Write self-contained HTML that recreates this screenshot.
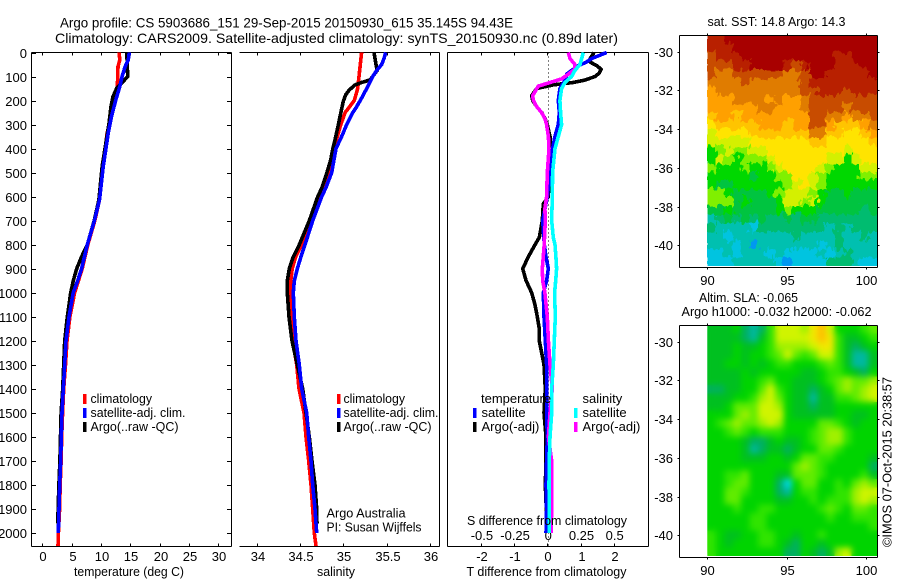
<!DOCTYPE html>
<html lang="en">
<head>
<meta charset="utf-8">
<title>Argo profile 5903686_151</title>
<style>
html,body{margin:0;padding:0;background:#fff;width:900px;height:580px;overflow:hidden}
svg{display:block}
text{font-family:"Liberation Sans",sans-serif;fill:#000;font-size:13px}
.t{font-size:14px}
</style>
</head>
<body>
<svg id="fig" width="900" height="580" viewBox="0 0 900 580" xmlns="http://www.w3.org/2000/svg">
<defs>
<clipPath id="clipSst"><rect x="707" y="35" width="170.5" height="231"/></clipPath>
<clipPath id="clipSla"><rect x="707" y="325" width="170.5" height="231"/></clipPath>
<filter id="blurSst" x="0" y="0" width="100%" height="100%" color-interpolation-filters="sRGB">
<feTurbulence type="fractalNoise" baseFrequency="0.22 0.12" numOctaves="2" seed="4" result="noise"/>
<feDisplacementMap in="SourceGraphic" in2="noise" scale="12" xChannelSelector="R" yChannelSelector="G"/>
</filter>
<filter id="blurSla" x="-5%" y="-5%" width="110%" height="110%" color-interpolation-filters="sRGB"><feGaussianBlur stdDeviation="3.2"/></filter>
</defs>
<rect width="900" height="580" fill="#fff"/>
<text class="t" x="60" y="27.5" textLength="453" lengthAdjust="spacingAndGlyphs">Argo profile: CS 5903686_151 29-Sep-2015 20150930_615 35.145S 94.43E</text>
<text class="t" x="55" y="43" textLength="563" lengthAdjust="spacingAndGlyphs">Climatology: CARS2009. Satellite-adjusted climatology: synTS_20150930.nc (0.89d later)</text>

<g id="panels"></g>

<text x="74" y="576" textLength="110" lengthAdjust="spacingAndGlyphs">temperature (deg C)</text>
<text x="317" y="576" textLength="38" lengthAdjust="spacingAndGlyphs">salinity</text>
<text x="466.5" y="576" textLength="160" lengthAdjust="spacingAndGlyphs">T difference from climatology</text>
<text x="467" y="525" textLength="160" lengthAdjust="spacingAndGlyphs">S difference from climatology</text>

<g>
<rect x="83" y="394" width="3.5" height="10" fill="#f00"/>
<rect x="83" y="408" width="3.5" height="10" fill="#00f"/>
<rect x="83" y="422" width="3.5" height="10" fill="#000"/>
<text x="90.5" y="403" textLength="61.5" lengthAdjust="spacingAndGlyphs">climatology</text>
<text x="90.5" y="417" textLength="95" lengthAdjust="spacingAndGlyphs">satellite-adj. clim.</text>
<text x="90.5" y="431" textLength="88" lengthAdjust="spacingAndGlyphs">Argo(..raw -QC)</text>
</g>
<g>
<rect x="337" y="394" width="3.5" height="10" fill="#f00"/>
<rect x="337" y="408" width="3.5" height="10" fill="#00f"/>
<rect x="337" y="422" width="3.5" height="10" fill="#000"/>
<text x="343.5" y="403" textLength="61.5" lengthAdjust="spacingAndGlyphs">climatology</text>
<text x="343.5" y="417" textLength="95" lengthAdjust="spacingAndGlyphs">satellite-adj. clim.</text>
<text x="343.5" y="431" textLength="88" lengthAdjust="spacingAndGlyphs">Argo(..raw -QC)</text>
</g>
<text x="326.5" y="517.5" textLength="79" lengthAdjust="spacingAndGlyphs">Argo Australia</text>
<text x="326.5" y="531.5" textLength="95" lengthAdjust="spacingAndGlyphs">PI: Susan Wijffels</text>

<text x="707.5" y="26" textLength="138" lengthAdjust="spacingAndGlyphs">sat. SST: 14.8 Argo: 14.3</text>
<text x="699" y="302" textLength="99" lengthAdjust="spacingAndGlyphs">Altim. SLA: -0.065</text>
<text x="681.5" y="316" textLength="190" lengthAdjust="spacingAndGlyphs">Argo h1000: -0.032 h2000: -0.062</text>

<g id="maps"></g>

<text transform="translate(891.5 547) rotate(-90)" textLength="170" lengthAdjust="spacingAndGlyphs">©IMOS 07-Oct-2015 20:38:57</text>
</svg>

<script>
/* ---------- profile data ---------- */
const depthTicks = [0,100,200,300,400,500,600,700,800,900,1000,1100,1200,1300,1400,1500,1600,1700,1800,1900,2000];
const tempTicks = [0,5,10,15,20,25,30];
const salTicks = [34,34.5,35,35.5,36];
const salTickLabels = ['34','34.5','35','35.5','36'];
const tDiffTicks = [-2,-1,0,1,2];
const sDiffTicks = [-0.5,-0.25,0,0.25,0.5];
const sDiffTickLabels = ['-0.5','-0.25','0','0.25','0.5'];

const tempClimDepth = [0,30,59,100,140,195,334,473,613,700,800,900,1000,1100,1200,1300,1400,1500,1600,1700,1800,1900,2000,2054];
const tempClim = [13.07,13.2,12.9,12.85,12.8,12.4,11.05,10.3,9.75,8.95,7.75,6.8,5.5,4.7,4.2,3.95,3.65,3.45,3.3,3.2,3.05,2.95,2.75,2.68];
const tempSatDepth = [0,30,59,100,142,195,264,334,473,613,700,800,900,950,1000,1100,1200,1300,1400,1500,1600,1700,1800,1900,2000];
const tempSat = [14.82,14.65,14.1,13.6,13.2,12.55,11.8,11.25,10.4,9.75,8.87,7.67,6.7,6.03,5.27,4.55,4.04,3.82,3.58,3.36,3.24,3.13,2.96,2.85,2.73];
const tempArgoDepth = [0,100,120,148,183,225,295,334,473,613,700,800,850,900,950,1000,1100,1200,1300,1400,1500,1600,1700,1800,1900,1960];
const tempArgo = [14.4,14.55,13.8,12.7,12.05,11.7,11.36,11.1,10.2,9.65,8.85,7.67,6.7,5.86,5.28,4.83,4.26,3.81,3.64,3.47,3.2,3.1,3.0,2.83,2.7,2.65];

const salClimDepth = [0,100,150,200,250,300,350,400,500,600,700,800,850,900,950,1000,1100,1200,1300,1400,1500,1600,1700,1800,1900,2000,2054];
const salClim = [35.21,35.18,35.165,35.126,35.02,34.97,34.93,34.89,34.83,34.719,34.623,34.519,34.45,34.41,34.392,34.384,34.392,34.415,34.462,34.488,34.546,34.569,34.6,34.627,34.646,34.665,34.684];
const salSatDepth = [0,25,50,75,100,150,190,225,250,300,350,400,500,565,600,700,800,850,900,950,1000,1100,1200,1300,1400,1500,1600,1700,1800,1900,2000];
const salSat = [35.488,35.469,35.442,35.385,35.338,35.269,35.21,35.154,35.108,35.038,34.98,34.915,34.865,34.796,34.75,34.646,34.557,34.511,34.468,34.434,34.422,34.434,34.453,34.491,34.519,34.577,34.6,34.627,34.646,34.673,34.692];
const salArgoDepth = [0,25,50,75,114,125,135,156,176,203,253,303,364,403,447,503,565,600,700,800,850,900,950,1000,1100,1200,1300,1400,1500,1600,1700,1800,1900,1960];
const salArgo = [35.353,35.365,35.376,35.39,35.307,35.21,35.134,35.068,35.027,34.999,34.969,34.94,34.903,34.877,34.854,34.808,34.75,34.704,34.607,34.491,34.422,34.376,34.353,34.353,34.373,34.407,34.468,34.531,34.569,34.607,34.638,34.673,34.692,34.696];

const tDiffArgoDepth = [0,25,40,55,70,85,100,115,125,135,150,180,200,225,250,275,300,350,400,500,600,630,700,770,800,850,900,950,1000,1050,1100,1150,1200,1250,1300,1400,1500,1600,1700,1800,1900,1960];
const tDiffArgo = [1.41,1.29,1.29,1.49,1.62,1.57,1.44,1.13,0.78,0.18,-0.32,-0.47,-0.44,-0.32,-0.17,-0.07,0,0.08,0.08,0.06,0.03,-0.12,-0.15,-0.24,-0.37,-0.57,-0.74,-0.64,-0.47,-0.37,-0.3,-0.24,-0.24,-0.17,-0.1,-0.06,-0.1,-0.04,-0.04,-0.06,-0.03,-0.03];
const tDiffSatDepth = [0,25,40,55,70,90,110,150,200,250,300,350,400,500,600,650,700,800,850,900,950,1000,1100,1200,1300,1400,1500,1600,1700,1800,1900,2000];
const tDiffSat = [1.79,1.34,1.18,0.93,0.78,0.58,0.56,0.38,0.33,0.36,0.33,0.23,0.16,0.08,0,-0.07,-0.14,-0.09,-0.04,0.03,-0.02,-0.12,-0.1,-0.06,-0.02,-0.02,-0.02,0,-0.02,-0.04,-0.02,-0.04];
const sDiffSatDepth = [0,25,50,75,100,125,150,200,250,300,350,400,500,600,700,770,800,850,900,950,1000,1100,1200,1300,1400,1500,1600,1700,1800,1900,2000];
const sDiffSat = [0.271,0.259,0.246,0.208,0.183,0.133,0.108,0.095,0.1,0.108,0.083,0.058,0.04,0.038,0.033,0.045,0.058,0.065,0.07,0.063,0.055,0.06,0.053,0.045,0.033,0.033,0.02,0.015,0.013,0.015,0.015];
const sDiffArgoDepth = [0,25,50,70,90,110,125,140,180,200,225,250,275,300,350,400,500,600,650,700,800,850,900,950,1000,1100,1200,1300,1400,1500,1600,1700,1800,1900,2000];
const sDiffArgo = [0.158,0.171,0.208,0.208,0.158,0.108,0.02,-0.068,-0.11,-0.105,-0.08,-0.043,-0.018,-0.005,0.008,0.013,0,-0.005,-0.018,-0.015,-0.023,-0.03,-0.038,-0.035,-0.018,0,0.008,0.02,0.038,0.02,0.008,0.033,0.033,0.033,0.028];

/* ---------- map data ---------- */
const mapLonTicks = [90,95,100];
const mapLatTicks = [-30,-32,-34,-36,-38,-40];
const sstColors = ['#0050e0','#0098f0','#00c4e0','#00c0b0','#00bc70','#00c440','#00d800','#80f000','#d4f000','#ffe400','#ffc400','#ffa000','#e07c00','#c84c00','#b82000','#a80000'];
const slaColors = ['#00d8e8','#00b8a0','#00b060','#00c020','#00d400','#30e400','#60ec00','#a0f000','#d0f400','#f0e800','#ffc000'];
const sstLevels = [
[14,14,15,15,15,15,15,15,15,15,15,15,15,15,15,15,15,15,15,15],
[14,14,14,15,15,15,15,15,15,15,15,15,15,15,15,15,15,15,15,15],
[13,14,14,14,15,15,15,15,15,15,15,15,15,15,15,14,14,15,15,15],
[13,13,13,14,14,15,15,15,15,14,13,14,15,15,15,14,14,14,15,15],
[13,12,12,13,13,13,13,13,13,12,12,13,15,15,14,14,14,14,14,15],
[12,12,12,12,13,12,12,12,12,12,12,13,14,14,14,14,14,14,14,14],
[11,12,12,12,12,12,12,12,12,12,12,13,13,14,14,14,13,14,14,14],
[11,11,11,12,12,12,12,11,12,11,11,12,13,13,13,13,13,13,13,13],
[11,11,11,11,11,11,12,12,11,11,11,12,13,13,13,13,12,13,13,13],
[10,11,11,10,11,11,11,11,11,11,11,11,13,13,12,12,11,12,12,13],
[9,10,10,10,10,10,11,11,11,10,11,11,13,13,11,10,10,10,11,12],
[8,9,9,9,9,10,10,10,10,10,10,10,12,12,10,10,9,9,10,11],
[8,8,8,8,8,9,9,9,9,9,9,9,10,10,9,9,9,9,9,10],
[6,7,8,7,7,8,8,9,9,9,9,9,9,9,9,9,8,9,9,9],
[6,8,7,6,7,7,7,8,9,9,9,9,9,9,8,8,6,8,9,9],
[7,6,6,6,7,6,6,7,8,9,9,9,9,8,7,6,6,6,8,8],
[6,6,6,6,6,5,6,6,7,7,9,9,8,7,6,6,6,6,7,7],
[6,5,5,6,6,6,6,6,6,7,8,9,8,7,6,6,6,6,6,6],
[7,7,6,5,5,5,5,6,7,8,8,8,7,6,5,5,6,5,5,5],
[7,7,7,5,6,5,5,5,6,8,8,7,8,6,5,5,5,5,5,5],
[5,5,6,5,5,5,5,5,6,7,6,6,6,5,5,5,5,5,4,5],
[3,4,5,4,5,4,5,4,4,5,4,5,5,4,4,4,4,4,4,4],
[4,3,3,3,3,2,4,4,4,4,4,4,4,4,3,4,3,4,4,4],
[3,3,2,3,3,3,3,3,3,3,4,3,3,3,3,4,3,3,4,3],
[3,3,3,2,3,1,3,3,3,3,3,3,3,2,3,4,3,3,3,3],
[2,2,3,2,3,3,3,2,3,2,2,2,2,3,2,3,4,3,3,3],
[2,2,2,3,3,3,3,3,2,1,2,2,2,2,4,4,4,3,2,2]
];
const slaLevels = [
[3,3,3,4,2,1,2,5,8,8,8,7,9,10,8,4,4,4,5,6],
[3,3,3,3,2,1,3,5,8,8,8,8,9,10,9,5,3,3,4,5],
[3,3,3,4,3,3,4,5,7,7,7,7,8,9,9,5,3,2,3,4],
[3,3,3,4,3,4,4,5,6,8,6,5,6,8,8,5,3,1,1,3],
[3,3,4,4,3,4,3,4,5,5,4,4,4,5,6,5,3,1,1,3],
[3,3,3,3,4,3,4,4,4,4,4,3,3,4,5,5,4,3,2,4],
[3,3,3,3,4,4,5,6,4,4,3,3,3,4,5,6,7,6,6,7],
[2,2,3,3,4,4,6,8,5,4,3,3,2,3,4,6,7,6,7,8],
[3,3,3,4,4,5,7,8,6,4,3,3,1,3,3,5,5,6,7,8],
[3,3,4,6,6,6,8,8,7,4,3,3,2,3,3,4,4,4,4,4],
[4,4,4,6,7,6,8,8,8,4,3,3,3,3,3,4,4,3,3,4],
[4,5,6,7,6,6,7,8,7,4,4,4,4,6,6,5,4,3,4,4],
[4,4,5,6,5,4,5,5,5,4,4,4,5,6,7,7,5,4,4,4],
[4,4,4,4,3,2,2,3,4,3,3,4,5,6,7,7,5,4,4,4],
[4,4,4,4,3,1,2,3,3,2,3,4,4,6,6,5,4,4,4,4],
[4,4,4,4,3,3,3,4,4,3,4,6,6,5,5,4,4,4,4,3],
[4,4,4,4,4,4,4,4,4,4,6,7,6,5,4,4,4,4,4,2],
[4,4,5,5,6,4,4,4,3,3,6,6,6,5,4,4,4,4,5,3],
[4,4,5,6,6,4,4,4,2,0,4,6,6,4,4,5,4,6,7,6],
[4,4,6,6,5,4,4,4,2,1,4,5,5,4,4,5,5,7,8,8],
[4,4,6,6,4,4,4,4,3,3,4,4,5,4,5,5,5,7,8,7],
[4,4,4,5,4,4,5,5,4,4,4,4,4,5,6,5,4,6,6,5],
[4,4,4,4,4,5,5,4,4,4,4,4,4,4,5,4,4,5,5,5],
[4,4,4,4,4,5,5,4,4,4,4,4,4,4,4,4,4,4,4,5],
[5,4,3,3,4,4,5,5,4,4,3,4,4,5,4,4,4,4,4,4],
[5,4,3,4,4,4,5,5,4,3,2,4,4,3,4,4,4,4,4,4],
[5,4,4,4,4,4,4,4,4,2,2,4,3,2,3,7,8,4,4,4]
];

/* ---------- axis functions ---------- */
const NS = 'http://www.w3.org/2000/svg';
const yDepth = d => 52.5 + d * 0.24025;
const xTemp = t => 42.3 + t * 5.87;
const xSal = s => 256.7 + (s - 34) * 86.67;
const xTDiff = t => 547.3 + t * 33.2;
const xSDiff = s => 547.3 + s * 132.8;
const xLon = lon => 707.3 + (lon - 90) * 15.84;
const yLat = (lat, top) => top + 16.7 + (-30 - lat) * 19.36;

function make(parent, tag, attrs, txt) {
  const el = document.createElementNS(NS, tag);
  for (const k in attrs) el.setAttribute(k, attrs[k]);
  if (txt !== undefined) el.textContent = txt;
  parent.appendChild(el);
  return el;
}
function axisLine(parent, x1, y1, x2, y2, name) {
  const el = make(parent, 'line', {x1, y1, x2, y2, stroke: '#000', 'stroke-width': 1, 'shape-rendering': 'crispEdges'});
  
  
}
function tickLabel(parent, x, y, anchor, txt, name) {
  const el = make(parent, 'text', {x, y, 'text-anchor': anchor}, txt);
  
  
}
function profile(parent, depths, vals, xf, color, name) {
  const pts = depths.map((d, i) => xf(vals[i]).toFixed(1) + ',' + yDepth(d).toFixed(1)).join(' ');
  const el = make(parent, 'polyline', {points: pts, fill: 'none', stroke: color, 'stroke-width': 3.6, 'stroke-linejoin': 'round', 'shape-rendering': 'crispEdges'});
  
  
}
function heatmap(parent, grid, colors, top, name) {
  const cols = grid[0].length, rows = grid.length;
  const cellLon = 10.71 / cols, cellLat = 11.93 / rows;
  grid.forEach((row, r) => row.forEach((v, c) => {
    const lon = 90 + c * cellLon, lat = -29.14 - r * cellLat;
    const x = xLon(lon), y = yLat(lat, top);
    const el = make(parent, 'rect', {
      x: x.toFixed(2), y: y.toFixed(2),
      width: (xLon(lon + cellLon) - x + 0.5).toFixed(2),
      height: (yLat(lat - cellLat, top) - y + 0.5).toFixed(2),
      fill: colors[v]
    });
    
    
  }));
}

/* ---------- panels ---------- */
const panels = document.getElementById('panels');
const TOP = 52.5, BOT = 546.5;

function frame(l, r, leftLine, name) {
  axisLine(panels, l, TOP, r, TOP, name + '-top-axis');
  axisLine(panels, l, BOT, r, BOT, name + '-bottom-axis');
  axisLine(panels, r, TOP, r, BOT, name + '-right-axis');
  if (leftLine) axisLine(panels, l, TOP, l, BOT, name + '-left-axis');
}
function xTicks(ticks, xf, labels, name) {
  ticks.forEach((t, i) => {
    const x = Math.round(xf(t)) + 0.5;
    axisLine(panels, x, TOP, x, TOP + 3, name + '-top-tick');
    axisLine(panels, x, BOT, x, BOT - 3, name + '-bottom-tick');
    tickLabel(panels, x + 0.5, 561, 'middle', labels[i], name + '-tick-label');
  });
}

frame(31.5, 231.5, true, 'temperature-panel');
frame(239.5, 439.5, false, 'salinity-panel');
frame(447.5, 648.5, true, 'difference-panel');

depthTicks.forEach(d => {
  const y = Math.round(yDepth(d)) + 0.5;
  axisLine(panels, 31.5, y, 36, y, 'depth-tick-left');
  axisLine(panels, 227, y, 231.5, y, 'depth-tick-right');
  tickLabel(panels, 27, y + 4.5, 'end', String(d), 'depth-tick-label');
});
xTicks(tempTicks, xTemp, tempTicks.map(String), 'temperature');
xTicks(salTicks, xSal, salTickLabels, 'salinity');
xTicks(tDiffTicks, xTDiff, tDiffTicks.map(String), 't-difference');
sDiffTicks.forEach((s, i) => {
  tickLabel(panels, xSDiff(s) + 1, 540, 'middle', sDiffTickLabels[i], 's-difference-tick-label');
});

profile(panels, tempClimDepth, tempClim, xTemp, '#f00', 'temperature-climatology-line');
profile(panels, tempArgoDepth, tempArgo, xTemp, '#000', 'temperature-argo-line');
profile(panels, tempSatDepth, tempSat, xTemp, '#00f', 'temperature-satellite-line');

profile(panels, salClimDepth, salClim, xSal, '#f00', 'salinity-climatology-line');
profile(panels, salArgoDepth, salArgo, xSal, '#000', 'salinity-argo-line');
profile(panels, salSatDepth, salSat, xSal, '#00f', 'salinity-satellite-line');

const zeroLine = make(panels, 'line', {x1: 548.5, y1: TOP, x2: 548.5, y2: BOT, stroke: '#000', 'stroke-width': 1, 'stroke-dasharray': '1 3', 'shape-rendering': 'crispEdges'});



profile(panels, tDiffArgoDepth, tDiffArgo, xTDiff, '#000', 't-difference-argo-line');
profile(panels, tDiffSatDepth, tDiffSat, xTDiff, '#00f', 't-difference-satellite-line');
profile(panels, sDiffArgoDepth, sDiffArgo, xSDiff, '#f0f', 's-difference-argo-line');
profile(panels, sDiffSatDepth, sDiffSat, xSDiff, '#0ff', 's-difference-satellite-line');

/* legend for the difference panel */
const diffLegend = make(panels, 'g', {});


tickLabel(diffLegend, 481, 403, 'start', 'temperature', 'legend-heading-temperature');
tickLabel(diffLegend, 481.5, 417, 'start', 'satellite', 'legend-entry-t-satellite');
tickLabel(diffLegend, 481.5, 431, 'start', 'Argo(-adj)', 'legend-entry-t-argo');
tickLabel(diffLegend, 582.5, 403, 'start', 'salinity', 'legend-heading-salinity');
tickLabel(diffLegend, 582.5, 417, 'start', 'satellite', 'legend-entry-s-satellite');
tickLabel(diffLegend, 582.5, 431, 'start', 'Argo(-adj)', 'legend-entry-s-argo');
[[473, 408, '#00f'], [473, 422, '#000'], [574, 408, '#0ff'], [574, 422, '#f0f']].forEach(s => {
  const el = make(diffLegend, 'rect', {x: s[0], y: s[1], width: 3.5, height: 10, fill: s[2]});
  
  
});

/* ---------- maps ---------- */
const maps = document.getElementById('maps');
function mapPanel(top, grid, colors, clip, blur, name) {
  const g = make(maps, 'g', {'clip-path': 'url(#' + clip + ')'});
  
  
  const base = make(g, 'g', {'shape-rendering': 'crispEdges'});
  
  
  heatmap(base, grid, colors, top, name + '-cell');
  const soft = make(g, 'g', {filter: 'url(#' + blur + ')', 'shape-rendering': 'crispEdges'});
  
  
  heatmap(soft, grid, colors, top, name + '-cell');

  const t = top + 0.5, b = top + 232.5, l = 679.5, r = 877.5;
  axisLine(maps, l, t, r, t, name + '-top-axis');
  axisLine(maps, l, b, r, b, name + '-bottom-axis');
  axisLine(maps, l, t, l, b, name + '-left-axis');
  axisLine(maps, r, t, r, b, name + '-right-axis');
  mapLonTicks.forEach(lon => {
    const x = Math.round(xLon(lon)) + 0.5;
    axisLine(maps, x, t - 2, x, t, name + '-top-tick');
    axisLine(maps, x, b, x, b + 2, name + '-bottom-tick');
    tickLabel(maps, x, top + 250, 'middle', String(lon), name + '-lon-label');
  });
  mapLatTicks.forEach(lat => {
    const y = Math.round(yLat(lat, top)) + 0.5;
    axisLine(maps, r, y, r + 2, y, name + '-right-tick');
    axisLine(maps, l - 2, y, l, y, name + '-left-tick');
    tickLabel(maps, 673, y + 4.5, 'end', String(lat), name + '-lat-label');
  });
}
mapPanel(35, sstLevels, sstColors, 'clipSst', 'blurSst', 'sst-map');
mapPanel(325, slaLevels, slaColors, 'clipSla', 'blurSla', 'sla-map');
</script>
</body>
</html>
